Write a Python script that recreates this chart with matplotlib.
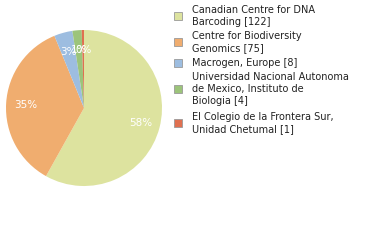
import matplotlib
matplotlib.use("Agg")
import matplotlib.pyplot as plt
from matplotlib.patches import Rectangle

labels = ["Canadian Centre for DNA\nBarcoding [122]",
          "Centre for Biodiversity\nGenomics [75]",
          "Macrogen, Europe [8]",
          "Universidad Nacional Autonoma\nde Mexico, Instituto de\nBiologia [4]",
          "El Colegio de la Frontera Sur,\nUnidad Chetumal [1]"]
values = [122, 75, 8, 4, 1]
colors = ["#dde39f", "#f0ad6f", "#9dbde0", "#9cc47a", "#e07050"]

W, H = 380, 240
fig = plt.figure(figsize=(W / 100, H / 100), dpi=100)
ax = fig.add_axes([6 / W, (240 - 186) / H, 156 / W, 156 / H])
wedges, texts, autotexts = ax.pie(
    values, colors=colors, startangle=90, counterclock=False,
    autopct=lambda p: "%d%%" % int(p + 1e-9),
    pctdistance=0.75, wedgeprops=dict(linewidth=0),
    textprops=dict(color="white", fontsize=7.5, family="DejaVu Sans"))
ax.set_aspect("equal")
ax.set_xlim(-1, 1)
ax.set_ylim(-1, 1)

centers = [16, 42, 63, 89, 123]
for lab, col, cy in zip(labels, colors, centers):
    fig.patches.append(Rectangle((174 / W, 1 - (cy + 4) / H), 8 / W, 8 / H,
                                 transform=fig.transFigure, facecolor=col,
                                 edgecolor="#999999", linewidth=0.6))
    fig.text(192 / W, 1 - cy / H, lab, fontsize=7, color="#222222",
             va="center", ha="left", linespacing=1.25, family="DejaVu Sans")

fig.savefig("out.png", dpi=100)
